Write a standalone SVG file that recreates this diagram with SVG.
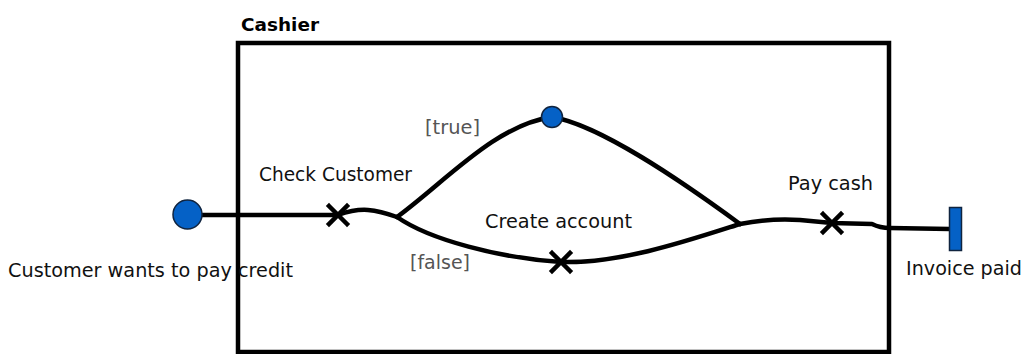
<svg xmlns="http://www.w3.org/2000/svg" width="1025" height="354" viewBox="0 0 1025 354">
<style>
.t{font-family:"DejaVu Sans",Verdana,sans-serif;font-size:19px;fill:#111}
.g{font-family:"DejaVu Sans",Verdana,sans-serif;font-size:19px;fill:#555}
.b{font-family:"DejaVu Sans",Verdana,sans-serif;font-size:18px;font-weight:bold;fill:#000}
.c{fill:none;stroke:#000;stroke-width:4.5;stroke-linecap:round;stroke-linejoin:round}
.x{fill:none;stroke:#000;stroke-width:4.5;stroke-linecap:square}
.n{fill:#0561c6;stroke:#10243f;stroke-width:1.5}
</style>
<rect width="1025" height="354" fill="#fff"/>
<g id="connectors">
<path class="c" d="M187 215 L338 215 Q355 209 368 210 Q380 211 397 217"/>
<path class="c" d="M397 217 C445 182 495 125 552 117"/>
<path class="c" d="M552 117 C600 125 680 180 740 224"/>
<path class="c" d="M397 217 C430 240 500 258 561 262 C620 264 690 240 740 224"/>
<path class="c" d="M740 224 Q770 218 800 220 L832 223 L872 224 Q880 228 890 228 L950 229"/>
</g>
<g id="cashier">
<rect x="238" y="43" width="651" height="309" fill="none" stroke="#000" stroke-width="4.5"/>
<text class="b" x="241" y="31" textLength="78" lengthAdjust="spacingAndGlyphs">Cashier</text>
</g>
<g id="start">
<circle class="n" cx="187.5" cy="214.5" r="14.5"/>
<text class="t" x="8" y="277" textLength="285" lengthAdjust="spacingAndGlyphs">Customer wants to pay credit</text>
</g>
<g id="check-customer">
<path class="x" d="M329 206 L347 224 M347 206 L329 224"/>
<text class="t" x="259" y="181" textLength="153" lengthAdjust="spacingAndGlyphs">Check Customer</text>
</g>
<g id="true-node">
<circle class="n" cx="552" cy="117" r="10.5"/>
<text class="g" x="425" y="134" textLength="55" lengthAdjust="spacingAndGlyphs">[true]</text>
</g>
<g id="false-label">
<text class="g" x="410" y="269" textLength="60" lengthAdjust="spacingAndGlyphs">[false]</text>
</g>
<g id="create-account">
<path class="x" d="M552 253 L570 271 M570 253 L552 271"/>
<text class="t" x="485" y="228" textLength="147" lengthAdjust="spacingAndGlyphs">Create account</text>
</g>
<g id="pay-cash">
<path class="x" d="M823 214 L841 232 M841 214 L823 232"/>
<text class="t" x="788" y="190" textLength="85" lengthAdjust="spacingAndGlyphs">Pay cash</text>
</g>
<g id="invoice-paid">
<rect class="n" x="949.5" y="207.5" width="12" height="43"/>
<text class="t" x="906" y="275" textLength="116" lengthAdjust="spacingAndGlyphs">Invoice paid</text>
</g>
</svg>
